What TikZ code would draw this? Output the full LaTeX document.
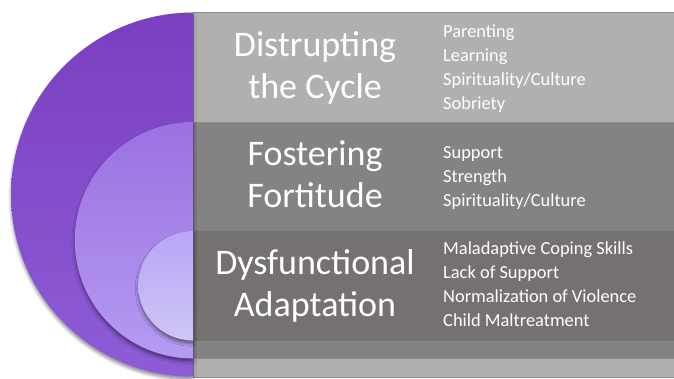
\documentclass[tikz,border=0pt]{standalone}
\usepackage{fontspec}
\setmainfont{Carlito}
\usetikzlibrary{positioning, calc, shadows.blur}
\definecolor{bandlight}{HTML}{B1B0AF}
\definecolor{bandmid}{HTML}{848383}
\definecolor{banddark}{HTML}{757171}
\definecolor{bandline}{HTML}{8E8D8C}
\tikzset{band/.style={draw=bandline, line width=0.8pt}}
\tikzset{ring/.style={blur shadow={shadow xshift=0pt, shadow yshift=-3pt, shadow blur radius=3pt, shadow opacity=45}}}
\tikzset{heading/.style={text=white, align=center, inner sep=0pt, font=\fontsize{36}{42}\selectfont}}
\tikzset{items/.style={text=white, align=left, inner sep=0pt, anchor=west, font=\fontsize{18.4}{24}\selectfont}}

\begin{document}
\begin{tikzpicture}[x=1pt, y=-1pt]
      \useasboundingbox (0,0) rectangle (674,378);

      % nested bands, outermost first
      \fill[bandlight, band] (193,12.5) rectangle (674,377);
      \fill[bandmid, band] (193,122) rectangle (674,358);
      \fill[banddark] (193,231) rectangle (674,340.5);
      \draw[bandline, line width=0.8pt] (193,12.5) -- (193,377);

      % half discs, one per band
      \shade[ring, top color={rgb,255:red,122;green,63;blue,192}, bottom color={rgb,255:red,142;green,92;blue,214}]
        (193,12.5) arc[start angle=270, end angle=90, radius=182] -- cycle;
      \shade[ring, top color={rgb,255:red,155;green,113;blue,224}, bottom color={rgb,255:red,180;green,155;blue,242}]
        (193,122) arc[start angle=270, end angle=90, radius=118.25] -- cycle;
      \shade[ring, top color={rgb,255:red,186;green,165;blue,248}, bottom color={rgb,255:red,206;green,198;blue,242}]
        (193,231) arc[start angle=270, end angle=90, radius=54.75] -- cycle;

      \node[heading] (cycle) at (315,68) {Distrupting\\the Cycle};
      \node[items] (cycle list) at (443,69) {Parenting\\Learning\\Spirituality/Culture\\Sobriety};

      \node[heading] (fortitude) at (315,174) {Fostering\\Fortitude};
      \node[items] (fortitude list) at (443,178) {Support\\Strength\\Spirituality/Culture};

      \node[heading] (adapt) at (315,286) {Dysfunctional\\Adaptation};
      \node[items] (adapt list) at (443,284.5) {Maladaptive Coping Skills\\Lack of Support\\Normalization of Violence\\Child Maltreatment};
\end{tikzpicture}
\end{document}
